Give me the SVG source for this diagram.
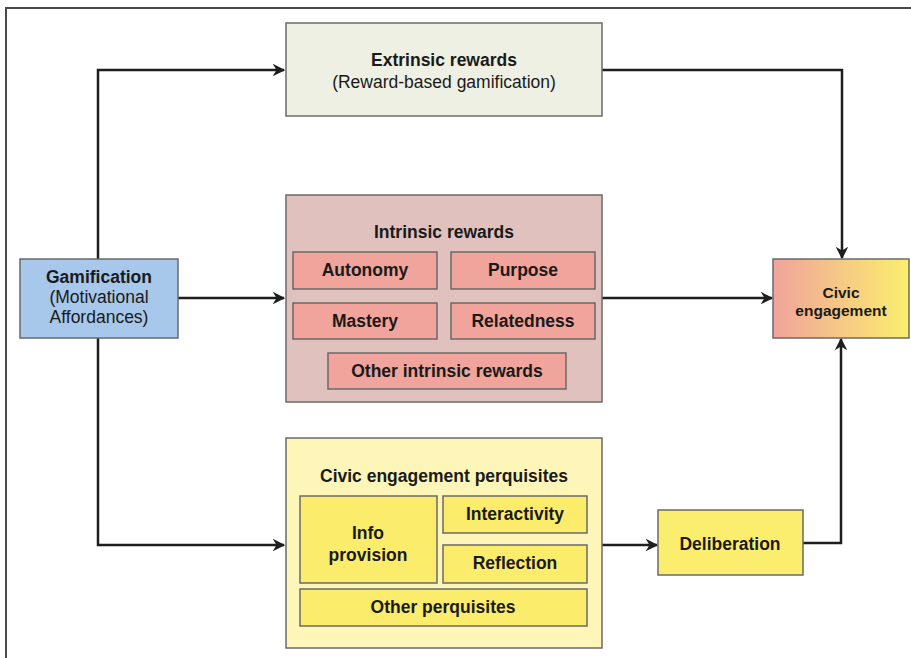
<svg xmlns="http://www.w3.org/2000/svg" width="911" height="658" viewBox="0 0 911 658">
<defs>
<style>
.t{font-family:"Liberation Sans",Arial,sans-serif;font-size:17.5px;fill:#1a1a1a;text-anchor:middle}
.b{font-weight:bold}
.box{stroke:#6a6a6a;stroke-width:1.5}
.conn{fill:none;stroke:#1e1e1e;stroke-width:2.5}
</style>
<linearGradient id="civic" x1="0" y1="0" x2="1" y2="0">
<stop offset="0" stop-color="#f0a39b"/>
<stop offset="1" stop-color="#fbee6e"/>
</linearGradient>
<marker id="arr" viewBox="0 0 10 10" refX="9" refY="5" markerWidth="5" markerHeight="5" orient="auto" markerUnits="strokeWidth">
<path d="M0,0 L10,5 L0,10 L3,5 Z" fill="#1e1e1e"/>
</marker>
</defs>
<rect width="911" height="658" fill="#fff"/>
<path d="M6,670 V8 H920" fill="none" stroke="#4a4a4a" stroke-width="2"/>

<g id="connectors">
<path class="conn" d="M98,259 V70 H284" marker-end="url(#arr)"/>
<path class="conn" d="M178,298 H284" marker-end="url(#arr)"/>
<path class="conn" d="M98,338 V545 H284" marker-end="url(#arr)"/>
<path class="conn" d="M602,70 H842 V258" marker-end="url(#arr)"/>
<path class="conn" d="M602,298 H772" marker-end="url(#arr)"/>
<path class="conn" d="M602,545 H657" marker-end="url(#arr)"/>
<path class="conn" d="M803,543 H841 V339" marker-end="url(#arr)"/>
</g>

<g id="extrinsic">
<rect class="box" x="286" y="23" width="316" height="93" fill="#eef0e3"/>
<text class="t b" x="444" y="66">Extrinsic rewards</text>
<text class="t" x="444" y="88">(Reward-based gamification)</text>
</g>

<g id="gamification">
<rect class="box" x="20" y="259" width="158" height="79" fill="#a7c7eb"/>
<text class="t b" x="99" y="283">Gamification</text>
<text class="t" x="99" y="303">(Motivational</text>
<text class="t" x="99" y="323">Affordances)</text>
</g>

<g id="intrinsic">
<rect class="box" x="286" y="195" width="316" height="207" fill="#e0c1be"/>
<text class="t b" x="444" y="238">Intrinsic rewards</text>
<g id="autonomy"><rect class="box" x="293" y="252" width="144" height="37" fill="#f0a49b"/><text class="t b" x="365" y="276">Autonomy</text></g>
<g id="purpose"><rect class="box" x="451" y="252" width="144" height="37" fill="#f0a49b"/><text class="t b" x="523" y="276">Purpose</text></g>
<g id="mastery"><rect class="box" x="293" y="303" width="144" height="36" fill="#f0a49b"/><text class="t b" x="365" y="327">Mastery</text></g>
<g id="relatedness"><rect class="box" x="451" y="303" width="144" height="36" fill="#f0a49b"/><text class="t b" x="523" y="327">Relatedness</text></g>
<g id="other-intrinsic"><rect class="box" x="328" y="353" width="238" height="36" fill="#f0a49b"/><text class="t b" x="447" y="377">Other intrinsic rewards</text></g>
</g>

<g id="civic-engagement">
<rect class="box" x="773" y="259" width="136" height="79" fill="url(#civic)"/>
<text class="t b" x="841" y="298" style="font-size:15.5px">Civic</text>
<text class="t b" x="841" y="316" style="font-size:15.5px">engagement</text>
</g>

<g id="perquisites">
<rect class="box" x="286" y="438" width="316" height="210" fill="#fdf6b8"/>
<text class="t b" x="444" y="482">Civic engagement perquisites</text>
<g id="info-provision"><rect class="box" x="300" y="496" width="137" height="87" fill="#fbec6b"/><text class="t b" x="368" y="539">Info</text><text class="t b" x="368" y="561">provision</text></g>
<g id="interactivity"><rect class="box" x="443" y="496" width="144" height="37" fill="#fbec6b"/><text class="t b" x="515" y="520">Interactivity</text></g>
<g id="reflection"><rect class="box" x="443" y="545" width="144" height="38" fill="#fbec6b"/><text class="t b" x="515" y="569">Reflection</text></g>
<g id="other-perquisites"><rect class="box" x="300" y="589" width="287" height="37" fill="#fbec6b"/><text class="t b" x="443" y="613">Other perquisites</text></g>
</g>

<g id="deliberation">
<rect class="box" x="658" y="510" width="145" height="65" fill="#fbee6e"/>
<text class="t b" x="730" y="550">Deliberation</text>
</g>
</svg>
